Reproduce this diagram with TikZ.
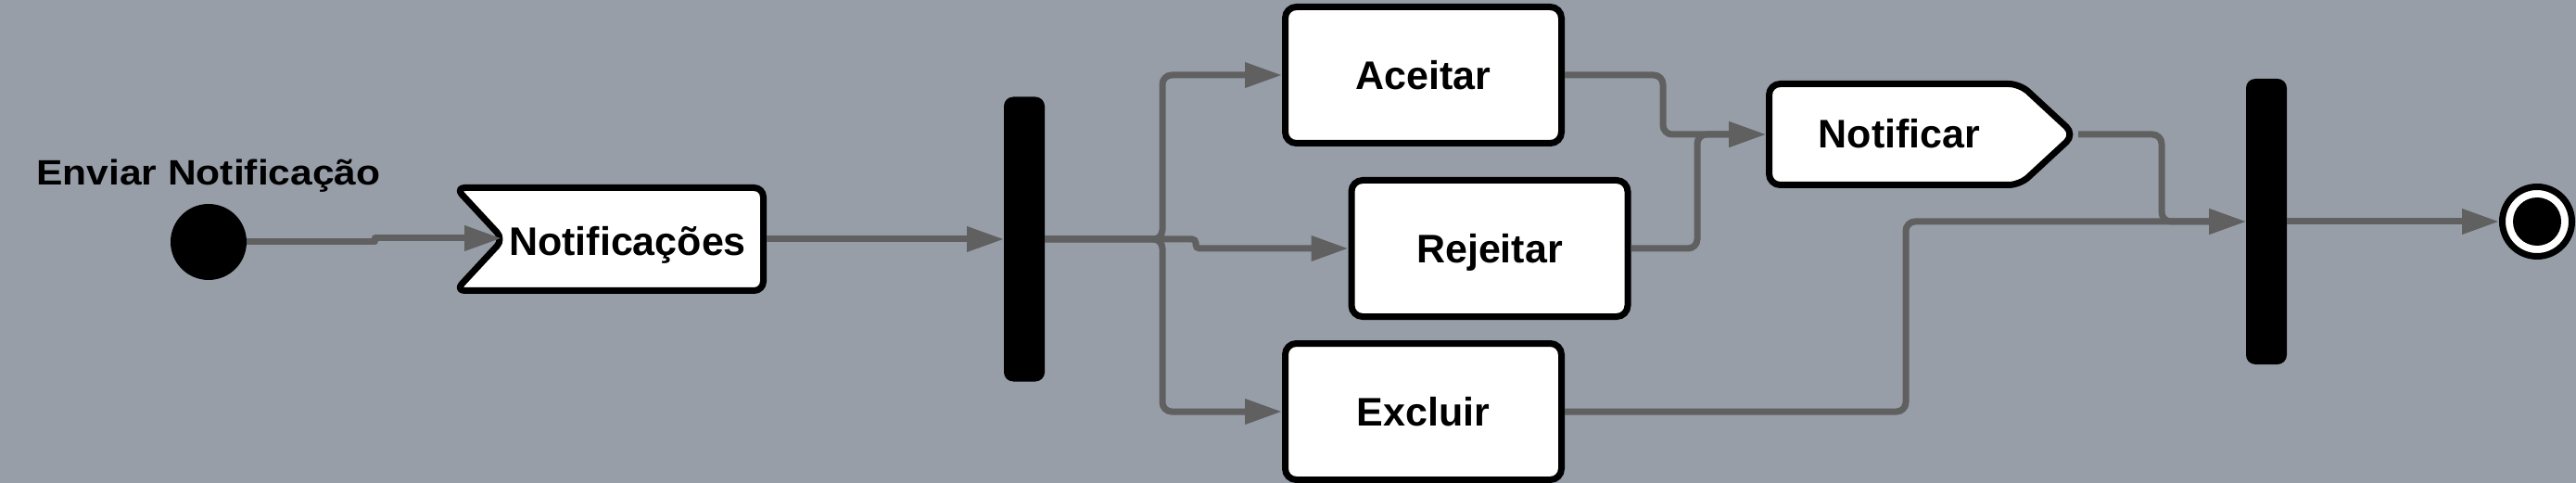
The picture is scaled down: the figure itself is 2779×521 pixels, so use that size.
\documentclass[tikz,border=0pt]{standalone}
\usepackage{fontspec}
\setmainfont{Liberation Sans}
\usetikzlibrary{arrows.meta}
\definecolor{bgc}{RGB}{151,158,168}
\definecolor{flowc}{RGB}{96,96,96}
\begin{document}
\begin{tikzpicture}[x=1pt,y=-1pt,
  flow/.style={draw=flowc, line width=7pt, rounded corners=10pt},
  arr/.style={-{Triangle[length=40pt,width=26pt]}},
  actbox/.style={rectangle, draw=black, line width=7pt, fill=white, rounded corners=12pt,
    minimum width=298pt, minimum height=147pt, inner sep=0pt,
    font=\fontsize{43}{50}\selectfont\bfseries, text height=31pt, text depth=0pt},
  boxtext/.style={font=\fontsize{43}{50}\selectfont\bfseries, text height=31pt, text depth=0pt, inner sep=0pt},
  bar/.style={rectangle, fill=black, rounded corners=10pt, minimum width=44pt, minimum height=307pt, inner sep=0pt, outer sep=0pt},
  ghost/.style={rectangle, inner sep=0pt, outer sep=0pt},
  outline/.style={draw=black, line width=7pt, fill=white, rounded corners=10pt, line join=round}
]
\useasboundingbox (0,0) rectangle (2779,521);
\fill[bgc] (0,0) rectangle (2779,521);

% title
\node[font=\fontsize{38}{44}\selectfont\bfseries, text height=27pt, text depth=0pt, inner sep=0pt] (title) at (225,186) {\scalebox{1.12}[1]{Enviar Notificação}};

% initial node
\node[circle, fill=black, minimum size=82pt, inner sep=0pt, outer sep=0pt] (init) at (225,261) {};

% accept event: Notificacoes
\node[ghost, minimum width=339pt, minimum height=118pt] (notifs) at (657.5,258) {};
\draw[outline] (657,202.5) -- (823.5,202.5) -- (823.5,313.5) -- (491.5,313.5) -- (543,258) -- (491.5,202.5) -- cycle;
\coordinate (ntin) at (541,257);
\node[boxtext] (notifstxt) at (677,260) {Notificações};

% fork and join bars
\node[bar] (fork1) at (1105,258) {};
\node[bar, minimum height=308pt] (join) at (2445,239) {};

% actions
\node[actbox] (aceitar) at (1535.5,81) {Aceitar};
\node[actbox] (rejeitar) at (1607,268) {Rejeitar};
\node[actbox] (excluir) at (1535.5,444) {Excluir};

% send signal: Notificar
\node[ghost, minimum width=337pt, minimum height=116pt] (notificar) at (2073.5,145) {};
\draw[outline, rounded corners=12pt] (2040,90.5) -- (2179,90.5) -- (2238,145) -- (2179,199.5) -- (1908.5,199.5) -- (1908.5,90.5) -- cycle;
\node[boxtext] (notiftxt) at (2049,144) {Notificar};

% final node
\node[circle, draw=black, line width=7pt, fill=white, minimum size=75pt, inner sep=0pt] (final) at (2737,239) {};
\fill[black] (final.center) circle (26pt);

% connectors
\draw[flow, arr, sharp corners, line join=round] (init.east) -- (404,261) -- (404,257) -- (ntin);
\draw[flow, arr] (notifs.east) -- (fork1.west);
\draw[flow, arr] (fork1.east) -- (1254,258) -- (1254,81) -- (aceitar.west);
\draw[flow, arr] (fork1.east) -- (1254,258) -- (1254,444) -- (excluir.west);
\draw[flow, arr, rounded corners=4pt] (fork1.east) -- (1290,258) -- (1290,268) -- (rejeitar.west);
\draw[flow, arr] (aceitar.east) -- (1794,81) -- (1794,145) -- (notificar.west);
\draw[flow, arr] (rejeitar.east) -- (1831,268) -- (1831,145) -- (notificar.west);
\draw[flow, arr] (notificar.east) -- (2332,145) -- (2332,239) -- (join.west);
\draw[flow, arr] (excluir.east) -- (2056,444) -- (2056,239) -- (join.west);
\draw[flow, arr] (join.east) -- (final.west);
\end{tikzpicture}
\end{document}
